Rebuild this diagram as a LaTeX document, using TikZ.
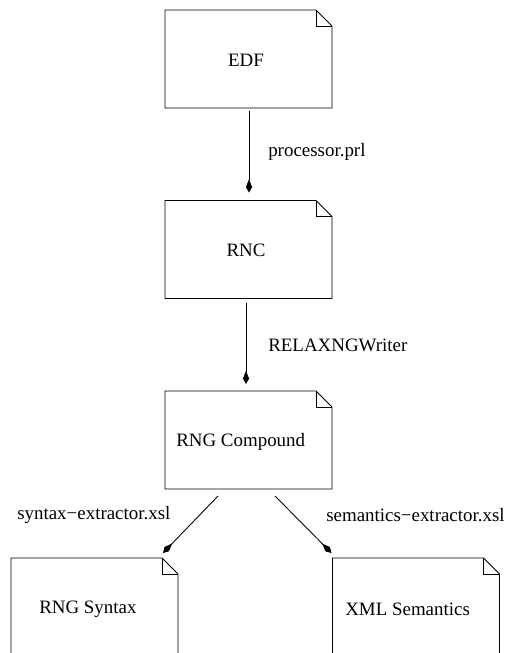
\documentclass[tikz,border=0pt]{standalone}
\usepackage{fontspec}
\setmainfont{Liberation Serif}
\usetikzlibrary{arrows.meta,calc}
\tikzset{
  notebox/.style={minimum width=125.25pt,minimum height=73.5pt,inner sep=0pt,outer sep=0pt},
  outline/.style={draw=black,line width=0.65pt,line join=miter},
  txt/.style={inner sep=0pt,font=\fontsize{14.2}{17}\selectfont},
  lbl/.style={inner sep=0pt,anchor=west,font=\fontsize{14.2}{17}\selectfont},
  arr/.style={draw=black,line width=0.65pt,-{Kite[length=10pt,width=4.6pt,inset=6pt]}}
}
\begin{document}
\begin{tikzpicture}[x=0.75pt,y=-0.75pt]
\useasboundingbox (0,0) rectangle (509,653);
\clip (0,0) rectangle (509,653);
% boxes
\node[notebox] (edf) at (248.5,59) {};
\node[notebox] (rnc) at (248.5,249.5) {};
\node[notebox] (cmp) at (248.5,440) {};
\node[notebox] (syn) at (94.5,607) {};
\node[notebox] (sem) at (416,607) {};
\foreach \n in {edf,rnc,cmp,syn,sem}{
  \draw[outline] (\n.north west) -- ([xshift=-12pt]\n.north east) -- ([yshift=-12pt]\n.north east) -- (\n.south east) -- (\n.south west) -- cycle;
  \draw[outline] ([xshift=-12pt]\n.north east) -- ++(0,-12pt) -- ([yshift=-12pt]\n.north east);
}
% texts
\node[txt] (edft) at (246,60) {EDF};
\node[txt] (rnct) at (246,250) {RNC};
\node[txt,anchor=west] (cmpt) at (176,442) {RNG Compound};
\node[txt,anchor=west] (synt) at (39,609) {RNG Syntax};
\node[txt,anchor=west] (semt) at (345,609) {XML Semantics};
% connectors
\draw[arr] ($(edf.south)+(0.5,3)$) -- ($(rnc.north)+(0.5,-8)$);
\draw[arr] ($(rnc.south)+(-2.5,4)$) -- ($(cmp.north)+(-2.5,-7)$);
\draw[arr] ($(cmp.south)+(-30.5,7)$) -- ($(syn.north east)+(-15,-5)$);
\draw[arr] ($(cmp.south)+(26.5,7)$) -- ($(sem.north west)+(-1,-5)$);
% labels
\node[lbl] (l1) at (268,152) {processor.prl};
\node[lbl] (l2) at (268,345) {RELAXNGWriter};
\node[lbl] (l3) at (17,515) {syntax−extractor.xsl};
\node[lbl] (l4) at (326,515) {semantics−extractor.xsl};
\end{tikzpicture}
\end{document}
